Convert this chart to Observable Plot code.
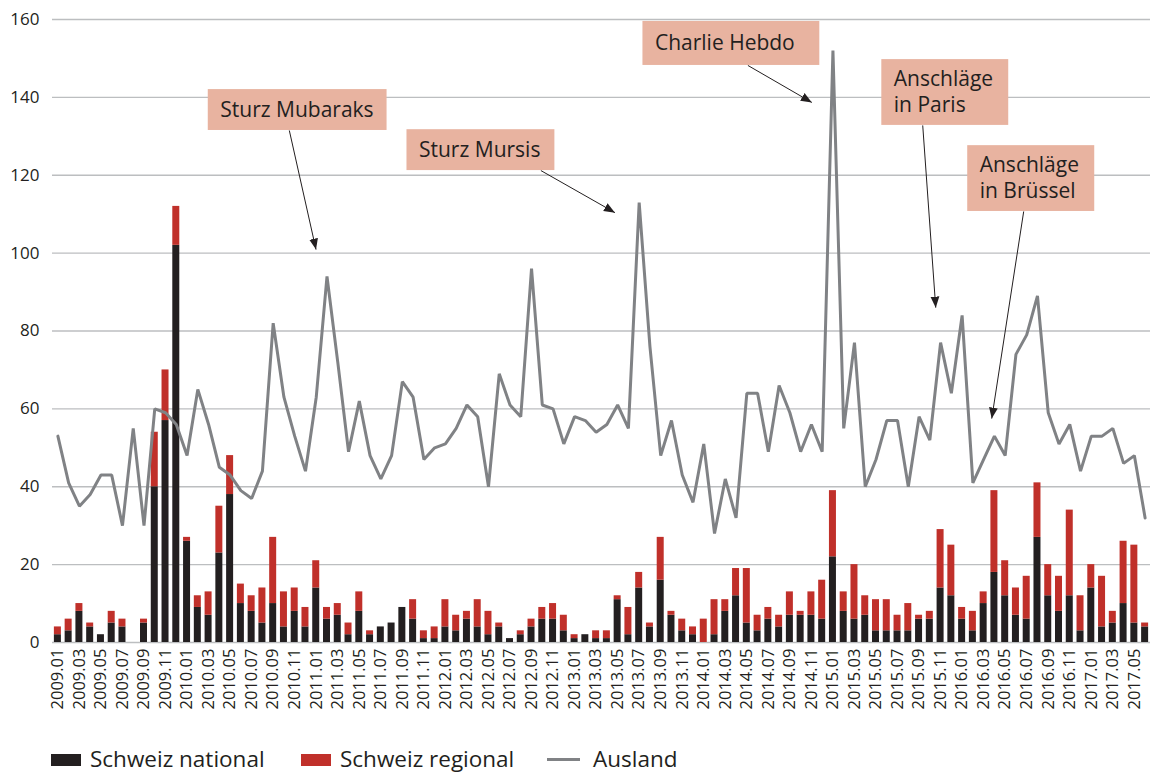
<!DOCTYPE html>
<html><head><meta charset="utf-8">
<script src="https://cdn.jsdelivr.net/npm/d3@7"></script>
<script src="https://cdn.jsdelivr.net/npm/@observablehq/plot@0.6"></script>
<style>
body{margin:0;background:#fff;font-family:"Open Sans",sans-serif;color:#231f20;overflow:hidden;}
#chart svg{display:block;}
#legend{position:relative;width:1150px;height:30px;}
#legend .sw{position:absolute;top:12px;height:12px;}
#legend .ln{position:absolute;top:16px;height:3px;background:#808285;}
#legend .tx{position:absolute;top:6px;font-size:22.5px;line-height:22px;white-space:nowrap;}
</style></head><body>
<div id="chart"></div>
<div id="legend">
  <div class="sw" style="left:51px;width:30px;background:#231f20"></div><div class="tx" style="left:90px">Schweiz national</div>
  <div class="sw" style="left:301px;width:30px;background:#c0302a"></div><div class="tx" style="left:340px">Schweiz regional</div>
  <div class="ln" style="left:547px;width:33px"></div><div class="tx" style="left:593px">Ausland</div>
</div>
<script>
// months 2009.01 .. 2017.06
const months = [];
for (let y = 2009; y <= 2017; y++) for (let m = 1; m <= 12; m++) {
  if (y === 2017 && m > 6) break;
  months.push(y + "." + String(m).padStart(2, "0"));
}
const national = [2,3,8,4,2,5,4,0,5,40,57,102,26,9,7,23,38,10,8,5,10,4,8,4,14,6,7,2,8,2,4,5,9,6,1,1,4,3,6,4,2,4,1,2,4,6,6,3,1,2,1,1,11,2,14,4,16,7,3,2,0,2,8,12,5,3,6,4,7,7,7,6,22,8,6,7,3,3,3,3,6,6,14,12,6,3,10,18,12,7,6,27,12,8,12,3,14,4,5,10,5,4];
const regional = [2,3,2,1,0,3,2,0,1,14,13,10,1,3,6,12,10,5,4,9,17,9,6,5,7,3,3,3,5,1,0,0,0,5,2,3,7,4,2,7,6,1,0,1,2,3,4,4,1,0,2,2,1,7,4,1,11,1,3,2,6,9,3,7,14,4,3,3,6,1,6,10,17,5,14,5,8,8,4,7,1,2,15,13,3,5,3,21,9,7,11,14,8,9,22,9,6,13,3,16,20,1];
const ausland = [53,41,35,38,43,43,30,55,30,60,59,56,48,65,56,45,43,39,37,44,82,63,53,44,63,94,72,49,62,48,42,48,67,63,47,50,51,55,61,58,40,69,61,58,96,61,60,51,58,57,54,56,61,55,113,76,48,57,43,36,51,28,42,32,64,64,49,66,59,49,56,49,152,55,77,40,47,57,57,40,58,52,77,64,84,41,47,53,48,74,79,89,59,51,56,44,53,53,55,46,48,32];
const yTicks = [0,20,40,60,80,100,120,140,160];
const xTickIdx = months.map((m, i) => i).filter(i => i % 2 === 0);

// annotations (month index / value space)
const annLines = [["Sturz Mubaraks"],["Sturz Mursis"],["Charlie Hebdo"],["Anschläge","in Paris"],["Anschläge","in Brüssel"]];
const annBoxX1 = [13.97, 32.43, 54.35, 76.54, 84.52];
const annBoxX2 = [30.58, 46.17, 70.78, 88.33, 96.32];
const annBoxY1 = [131.5, 121.2, 148.2, 132.8, 110.7];
const annBoxY2 = [142.0, 131.7, 159.5, 149.7, 127.6];
const annFromX = [21.5, 44.87, 64.1, 80.34, 89.72];
const annFromY = [131.5, 121.2, 148.2, 132.8, 110.7];
const annToX = [23.98, 51.75, 70.04, 81.55, 86.75];
const annToY = [100.9, 110.4, 138.7, 86.0, 57.5];

const bars = months.map((m, i) => ({i, nat: national[i], reg: regional[i]}));
const lineData = months.map((m, i) => ({i, v: ausland[i]}));
const boxes = annLines.map((l, k) => ({x1: annBoxX1[k], x2: annBoxX2[k], y1: annBoxY1[k], y2: annBoxY2[k]}));
const arrows = annLines.map((l, k) => ({x1: annFromX[k], y1: annFromY[k], x2: annToX[k], y2: annToY[k]}));
const texts = [];
annLines.forEach((lines, k) => {
  const mid = (annBoxY1[k] + annBoxY2[k]) / 2;
  const n = lines.length;
  lines.forEach((t, j) => texts.push({x: annBoxX1[k], y: mid + ((n - 1) / 2 - j) * 6.7, t}));
});

const hw = 0.325;
const svg = Plot.plot({
  width: 1150, height: 742,
  marginLeft: 52, marginRight: 0, marginTop: 19, marginBottom: 100,
  style: {fontFamily: "'Open Sans', sans-serif", color: "#231f20", background: "#fff", overflow: "visible"},
  x: {domain: [-0.5, 101.5]},
  y: {domain: [0, 160]},
  marks: [
    Plot.ruleY(yTicks, {stroke: "#bcbec0", strokeWidth: 1.3}),
    Plot.rect(bars, {x1: d => d.i - hw, x2: d => d.i + hw, y1: 0, y2: d => d.nat, fill: "#231f20"}),
    Plot.rect(bars, {x1: d => d.i - hw, x2: d => d.i + hw, y1: d => d.nat, y2: d => d.nat + d.reg, fill: "#c0302a"}),
    Plot.line(lineData, {x: "i", y: "v", stroke: "#808285", strokeWidth: 3, strokeLinejoin: "miter"}),
    Plot.rect(boxes, {x1: "x1", x2: "x2", y1: "y1", y2: "y2", fill: "#e8b3a0"}),
    Plot.text(texts, {x: "x", y: "y", text: "t", textAnchor: "start", dx: 12, fontSize: 21, fill: "#231f20"}),
    Plot.link(arrows, {x1: "x1", y1: "y1", x2: "x2", y2: "y2", stroke: "#231f20", strokeWidth: 1, markerEnd: "arrow"}),
    Plot.axisY(yTicks, {tickSize: 0, tickPadding: 13, fontSize: 17, label: null}),
    Plot.axisX(xTickIdx, {tickFormat: i => months[i], tickRotate: -90, tickSize: 0, tickPadding: 6, fontSize: 16.5, label: null})
  ]
});
svg.querySelectorAll("marker").forEach(m => {
  m.setAttribute("viewBox", "-10 -5 10 10");
  m.setAttribute("markerWidth", 11);
  m.setAttribute("markerHeight", 11);
  m.setAttribute("fill", "#231f20");
  m.setAttribute("stroke", "none");
  const p = m.querySelector("path");
  if (p) p.setAttribute("d", "M-10,-4L0,0L-10,4Z");
});
document.getElementById("chart").appendChild(svg);
</script></body></html>
